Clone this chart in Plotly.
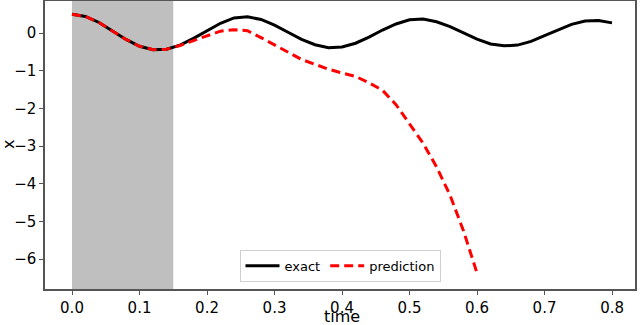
import plotly.graph_objects as go

# time grid
t_exact = [0.00, 0.02, 0.04, 0.06, 0.08, 0.10, 0.12, 0.14, 0.16, 0.18,
           0.20, 0.22, 0.24, 0.26, 0.28, 0.30, 0.32, 0.34, 0.36, 0.38,
           0.40, 0.42, 0.44, 0.46, 0.48, 0.50, 0.52, 0.54, 0.56, 0.58,
           0.60, 0.62, 0.64, 0.66, 0.68, 0.70, 0.72, 0.74, 0.76, 0.78, 0.80]
x_exact = [0.50, 0.44, 0.28, 0.05, -0.17, -0.35, -0.44, -0.43, -0.32, -0.14,
           0.07, 0.26, 0.40, 0.43, 0.36, 0.21, 0.02, -0.17, -0.31, -0.39,
           -0.37, -0.27, -0.11, 0.08, 0.24, 0.35, 0.37, 0.30, 0.17, 0.00,
           -0.16, -0.29, -0.34, -0.32, -0.22, -0.07, 0.09, 0.23, 0.32, 0.33, 0.27]

t_pred = [0.00, 0.02, 0.04, 0.06, 0.08, 0.10, 0.12, 0.14, 0.16, 0.18,
          0.20, 0.22, 0.24, 0.26, 0.28, 0.30, 0.32, 0.34, 0.36, 0.38,
          0.40, 0.42, 0.44, 0.46, 0.48, 0.50, 0.52, 0.54, 0.56, 0.58, 0.60]
x_pred = [0.50, 0.44, 0.28, 0.05, -0.17, -0.35, -0.44, -0.43, -0.33, -0.20,
          -0.07, 0.05, 0.09, 0.06, -0.12, -0.31, -0.50, -0.70, -0.83, -0.96,
          -1.06, -1.15, -1.32, -1.52, -1.90, -2.40, -2.92, -3.55, -4.30, -5.25, -6.37]

train_window = [0.0, 0.15]

x_ticks = [0.0, 0.1, 0.2, 0.3, 0.4, 0.5, 0.6, 0.7, 0.8]
x_labels = ["0.0", "0.1", "0.2", "0.3", "0.4", "0.5", "0.6", "0.7", "0.8"]
y_ticks = [0, -1, -2, -3, -4, -5, -6]
y_labels = ["0", "\u22121", "\u22122", "\u22123", "\u22124", "\u22125", "\u22126"]

fig = go.Figure()

fig.add_vrect(x0=train_window[0], x1=train_window[1], fillcolor="#bfbfbf",
              opacity=1, line_width=0, layer="below")

fig.add_trace(go.Scatter(x=t_exact, y=x_exact, mode="lines", name="exact",
                         line=dict(color="black", width=3)))
fig.add_trace(go.Scatter(x=t_pred, y=x_pred, mode="lines", name="prediction",
                         line=dict(color="red", width=3, dash="9px,5px")))

axis_common = dict(showline=True, linecolor="#555555", linewidth=1.5, mirror=True,
                   ticks="outside", ticklen=4, tickcolor="#555555",
                   showgrid=False, zeroline=False, automargin=False,
                   tickfont=dict(family="DejaVu Sans", size=15, color="black"))

fig.update_xaxes(range=[-0.04, 0.834], tickmode="array", tickvals=x_ticks,
                 ticktext=x_labels, **axis_common)
fig.update_yaxes(range=[-6.79, 0.85], tickmode="array", tickvals=y_ticks,
                 ticktext=y_labels, **axis_common)

# axis titles as annotations so margins stay fixed
fig.add_annotation(text="time", xref="paper", yref="paper", x=0.503, y=0,
                   yanchor="middle", yshift=-27.5, showarrow=False,
                   font=dict(family="DejaVu Sans", size=16, color="black"))
fig.add_annotation(text="x", xref="paper", yref="paper", x=0, y=0.5,
                   xanchor="center", xshift=-37, textangle=-90, showarrow=False,
                   font=dict(family="DejaVu Sans", size=16, color="black"))

fig.update_layout(
    width=640, height=325,
    margin=dict(l=45, r=5, t=1, b=36, autoexpand=False),
    plot_bgcolor="white", paper_bgcolor="white",
    legend=dict(orientation="h", x=0.5, xanchor="center", y=0.025, yanchor="bottom",
                bgcolor="rgba(255,255,255,0.85)", bordercolor="#d0d0d0", borderwidth=1,
                font=dict(family="DejaVu Sans", size=13, color="black"),
                itemwidth=34),
    showlegend=True,
)

# drop the page's default body margin so the figure sits at the window corner
fig.write_html("out.html", config={"displayModeBar": False},
               post_script="document.body.style.margin='0';")
